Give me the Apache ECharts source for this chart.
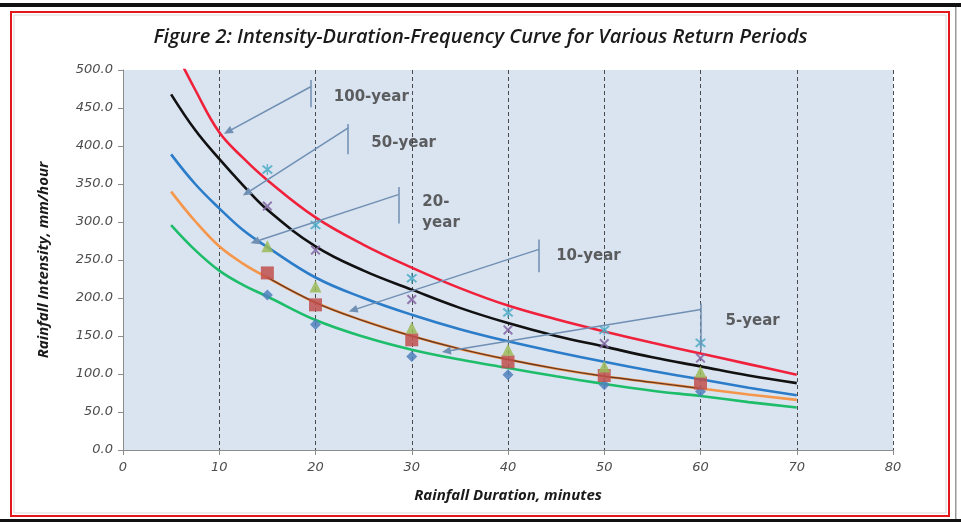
<!DOCTYPE html>
<html>
<head>
<meta charset="utf-8">
<script src="https://cdn.jsdelivr.net/npm/echarts@6/dist/echarts.min.js"></script>
<style>
  html, body { margin: 0; padding: 0; background: #fff; }
  #chart { width: 961px; height: 524px; }
</style>
</head>
<body>
<div id="chart"></div>
<script>
// ---- Data ----
const durations = [5, 7.5, 10, 12.5, 15, 20, 25, 30, 35, 40, 45, 50, 55, 60, 65, 70];
const fit100yr = [536, 474, 418, 384, 355, 306, 270, 240, 213, 190, 172, 156, 141, 127, 113, 99];
const fit50yr  = [468, 421, 383, 348, 316, 268, 236, 211, 187, 167, 150, 136, 122, 110, 98, 88];
const fit20yr  = [389, 350, 318, 289, 267, 227, 200, 178, 159, 143, 129, 116, 104, 93, 82, 72];
const fit10yr  = [340, 301, 268, 245, 227, 194, 170, 150, 133, 119, 107, 97, 89, 81, 73, 66];
const fit5yr   = [296, 263, 236, 217, 202, 171, 149, 132, 119, 108, 97, 87, 78, 71, 63, 56];

const obsDurations = [15, 20, 30, 40, 50, 60];
const obs5yr   = [204, 165, 123, 99, 86, 77];
const obs10yr  = [233, 191, 145, 116, 98, 88];
const obs20yr  = [268, 215, 161, 132, 110, 103];
const obs50yr  = [321, 263, 198, 158, 140, 121];
const obs100yr = [369, 296, 226, 181, 158, 141];

const xTicks = [0, 10, 20, 30, 40, 50, 60, 70, 80];
const yTicks = [0, 50, 100, 150, 200, 250, 300, 350, 400, 450, 500];

const calloutLabels = ['100-year', '50-year', '20-\nyear', '10-year', '5-year'];

// ---- Annotation placement (data coordinates) ----
const calloutGeom = [
  { bar: [19.5, 487, 451], from: [19.5, 478], tip: [10.9, 419], text: [21.9, 464] },
  { bar: [23.4, 429, 389], from: [23.4, 424], tip: [12.85, 338], text: [25.8, 404] },
  { bar: [28.6, 346, 298], from: [28.6, 336], tip: [13.7, 274], text: [31.1, 313] },
  { bar: [43.2, 277, 234], from: [43.2, 264], tip: [23.9, 184], text: [45.0, 255] },
  { bar: [60.05, 193, 130], from: [60.05, 185], tip: [33.6, 130], text: [62.6, 170] }
];

const pair = (xs, ys) => xs.map((x, i) => [x, ys[i]]);

const chart = echarts.init(document.getElementById('chart'), null, { renderer: 'canvas' });

const XSYM = 'path://M0,1.4L1.4,0L5,3.6L8.6,0L10,1.4L6.4,5L10,8.6L8.6,10L5,6.4L1.4,10L0,8.6L3.6,5Z';
const STARSYM = 'path://M0,1.4L1.4,0L5,3.6L8.6,0L10,1.4L6.4,5L10,8.6L8.6,10L5,6.4L1.4,10L0,8.6L3.6,5Z M4.4,-1L5.6,-1L5.6,11L4.4,11Z';

function curve(name, ys, color, z) {
  return {
    name, type: 'line', data: pair(durations, ys), smooth: 0.4, showSymbol: false,
    symbol: 'none', clip: true, z: z || 3,
    lineStyle: { color, width: 2.6 }
  };
}
function obs(name, ys, color, symbol, size) {
  return {
    name, type: 'scatter', data: pair(obsDurations, ys), symbol, symbolSize: size, z: 4,
    itemStyle: { color, opacity: 0.85 }
  };
}

const lineColor = '#6f8fb3';
const markData = [];
calloutGeom.forEach(g => {
  markData.push([{ coord: [g.bar[0], g.bar[1]], symbol: 'none' }, { coord: [g.bar[0], g.bar[2]], symbol: 'none' }]);
  markData.push([{ coord: g.from, symbol: 'none' }, { coord: g.tip, symbol: 'triangle', symbolSize: [8, 9] }]);
});

const option = {
  animation: false,
  backgroundColor: '#ffffff',
  title: {
    text: 'Figure 2: Intensity-Duration-Frequency Curve for Various Return Periods',
    left: 'center', top: 22,
    textStyle: { fontFamily: 'Open Sans', fontStyle: 'italic', fontWeight: 600, fontSize: 20, color: '#1a1a1a' }
  },
  grid: { left: 123, right: 68, top: 70, bottom: 74, show: true, backgroundColor: '#dae3f0', borderWidth: 0 },
  xAxis: {
    type: 'value', min: 0, max: 80, interval: 10,
    name: 'Rainfall Duration, minutes', nameLocation: 'middle', nameGap: 38,
    nameTextStyle: { fontFamily: 'Open Sans', fontStyle: 'italic', fontWeight: 'bold', fontSize: 15, color: '#1a1a1a' },
    axisLine: { show: true, lineStyle: { color: '#8c8c8c', width: 1 } },
    axisTick: { show: true, length: 5, lineStyle: { color: '#8c8c8c' } },
    axisLabel: { fontFamily: 'DejaVu Sans', fontStyle: 'italic', fontSize: 13, color: '#4d4d4d', margin: 11,
      formatter: v => xTicks.includes(v) ? String(v) : '' },
    splitLine: { show: true, lineStyle: { type: [4, 3], color: '#4a4a4a', width: 1 } }
  },
  yAxis: {
    type: 'value', min: 0, max: 500, interval: 50,
    name: 'Rainfall Intensity, mm/hour', nameLocation: 'middle', nameGap: 72,
    nameTextStyle: { fontFamily: 'Open Sans', fontStyle: 'italic', fontWeight: 'bold', fontSize: 15, color: '#1a1a1a' },
    axisLine: { show: true, lineStyle: { color: '#8c8c8c', width: 1 } },
    axisTick: { show: true, length: 5, lineStyle: { color: '#8c8c8c' } },
    axisLabel: { fontFamily: 'DejaVu Sans', fontStyle: 'italic', fontSize: 13, color: '#4d4d4d', margin: 10,
      formatter: v => yTicks.includes(v) ? v.toFixed(1) : '' },
    splitLine: { show: false }
  },
  series: [
    curve('5-year fit', fit5yr, '#1dbd6a'),
    curve('10-year fit', fit10yr, '#f5974a'),
    {
      name: '10-year trend', type: 'line', data: pair(durations, fit10yr).slice(4, 14), smooth: 0.4,
      symbol: 'none', z: 3, lineStyle: { color: '#6b3a22', width: 1.4 }
    },
    curve('20-year fit', fit20yr, '#2b7cc9'),
    curve('50-year fit', fit50yr, '#111111'),
    curve('100-year fit', fit100yr, '#f0213b'),
    obs('5-year data', obs5yr, '#4f81bd', 'diamond', 11),
    obs('10-year data', obs10yr, '#c0504d', 'rect', 13),
    obs('20-year data', obs20yr, '#9bbb59', 'triangle', 12),
    obs('50-year data', obs50yr, '#8064a2', XSYM, 10),
    obs('100-year data', obs100yr, '#4bacc6', STARSYM, 11),
    {
      name: 'callouts', type: 'scatter', z: 6, symbolSize: 0, silent: true,
      data: calloutGeom.map((g, i) => ({ value: g.text, label: { formatter: calloutLabels[i] } })),
      label: { show: true, position: 'right', distance: 0, fontFamily: 'DejaVu Sans', fontSize: 15,
        fontWeight: 'bold', color: '#3a3a3a', lineHeight: 21 },
      markLine: {
        silent: true, animation: false, symbol: 'none',
        label: { show: false },
        lineStyle: { color: lineColor, width: 1.5, type: 'solid' },
        data: markData
      }
    }
  ],
  graphic: [
    { type: 'rect', shape: { x: 0, y: 3, width: 961, height: 4 }, style: { fill: '#111' }, silent: true },
    { type: 'rect', shape: { x: 0, y: 519, width: 961, height: 3 }, style: { fill: '#111' }, silent: true },
    { type: 'rect', shape: { x: 955, y: 7, width: 1.5, height: 512 }, style: { fill: '#999' }, silent: true },
    { type: 'rect', shape: { x: 11, y: 12, width: 938, height: 504 }, style: { fill: 'none', stroke: '#e3161b', lineWidth: 2 }, silent: true },
    { type: 'rect', shape: { x: 14, y: 15, width: 932, height: 498 }, style: { fill: 'none', stroke: '#d9d9d9', lineWidth: 1 }, silent: true }
  ]
};
chart.setOption(option);
</script>
</body>
</html>
